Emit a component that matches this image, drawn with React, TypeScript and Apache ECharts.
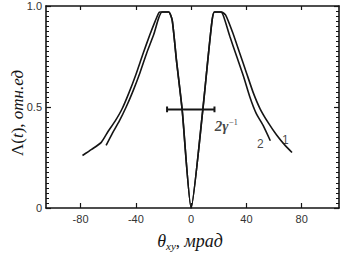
import React, { useEffect, useRef } from "react";
import * as echarts from "echarts";

const xTicks = [-80, -40, 0, 40, 80];
const yTicks = [0, 0.5, 1];

const curve1X = [-78.6, -72, -65, -60, -55, -50, -45, -40, -35, -30, -26, -23.5, -22.2, -16.2, -13.7, -10.6, -6.5, 0, 8.5, 11.6, 15.2, 16.9, 22, 25, 30, 35, 40, 45, 50, 56, 62, 68, 73];
const curve1Y = [0.26, 0.29, 0.325, 0.38, 0.43, 0.49, 0.57, 0.66, 0.76, 0.855, 0.925, 0.965, 0.97, 0.97, 0.93, 0.731, 0.488, 0, 0.488, 0.7, 0.93, 0.97, 0.97, 0.955, 0.87, 0.77, 0.67, 0.57, 0.49, 0.42, 0.36, 0.31, 0.275];

const curve2X = [-61.5, -57, -52, -47, -42, -37, -32, -27, -23.5, -21, -16.2, -13.7, -10.6, -6.5, 0, 8.5, 11.6, 15.2, 16.9, 21.5, 23.6, 28, 33, 38, 42.5, 47, 52, 57.3];
const curve2Y = [0.31, 0.37, 0.43, 0.5, 0.58, 0.67, 0.77, 0.86, 0.94, 0.97, 0.97, 0.93, 0.731, 0.488, 0, 0.488, 0.7, 0.93, 0.97, 0.97, 0.947, 0.85, 0.75, 0.65, 0.55, 0.47, 0.41, 0.333];

const barX = [-17.4, 16.9];
const barY = 0.488;
const capHalf = 0.014;

const labelNames = ["2", "1", "gamma"];
const labelX = [50.1, 68.1, 25.5];
const labelY = [0.318, 0.338, 0.405];

const ink = "#151515";

export default function App() {
  const ref = useRef<HTMLDivElement>(null);
  useEffect(() => {
    if (!ref.current) return;
    const chart = echarts.init(ref.current, undefined, { renderer: "svg" });
    const c1 = curve1X.map((x, i) => [x, curve1Y[i]]);
    const c2 = curve2X.map((x, i) => [x, curve2Y[i]]);
    const bar = [
      [barX[0], barY + capHalf],
      [barX[0], barY - capHalf],
      [barX[0], barY],
      [barX[1], barY],
      [barX[1], barY - capHalf],
      [barX[1], barY + capHalf],
    ];
    const labels = labelNames.map((n, i) => ({ name: n, value: [labelX[i], labelY[i]] }));
    const axisLine = { show: true, onZero: false, lineStyle: { color: ink, width: 1.6 } };
    const tickFont = { fontFamily: "Liberation Sans", fontSize: 11, color: "#333" };
    chart.setOption({
      animation: false,
      backgroundColor: "#fff",
      grid: { left: 46, right: 10, top: 6, bottom: 52 },
      xAxis: [
        {
          type: "value",
          position: "bottom",
          min: -105,
          max: 107,
          axisLine,
          splitLine: { show: false },
          axisTick: { show: true, inside: true, length: 5, customValues: xTicks, lineStyle: { color: ink, width: 1.2 } },
          axisLabel: { customValues: xTicks, margin: 5, ...tickFont },
        },
        {
          type: "value",
          position: "top",
          min: -105,
          max: 107,
          axisLine,
          splitLine: { show: false },
          axisTick: { show: true, inside: true, length: 4, customValues: xTicks, lineStyle: { color: ink, width: 1.2 } },
          axisLabel: { show: false },
        },
      ],
      yAxis: [
        {
          type: "value",
          position: "left",
          min: 0,
          max: 1,
          interval: 0.5,
          axisLine,
          splitLine: { show: false },
          axisTick: { show: true, inside: true, length: 5, lineStyle: { color: ink, width: 1.2 } },
          minorTick: { show: true, splitNumber: 20, length: 3, lineStyle: { color: ink, width: 1 } },
          axisLabel: {
            margin: 4,
            ...tickFont,
            formatter: (v: number) => (yTicks.includes(v) ? (v === 0 ? "0" : v.toFixed(1)) : ""),
          },
        },
        {
          type: "value",
          position: "right",
          min: 0,
          max: 1,
          interval: 0.5,
          axisLine,
          splitLine: { show: false },
          axisTick: { show: true, inside: true, length: 5, lineStyle: { color: ink, width: 1.2 } },
          minorTick: { show: true, splitNumber: 20, length: 3, lineStyle: { color: ink, width: 1 } },
          axisLabel: { show: false },
        },
      ],
      series: [
        {
          type: "line",
          data: c1,
          showSymbol: false,
          symbol: "none",
          smooth: 0.2,
          lineStyle: { color: ink, width: 1.6 },
          z: 3,
        },
        {
          type: "line",
          data: c2,
          showSymbol: false,
          symbol: "none",
          smooth: 0.2,
          lineStyle: { color: ink, width: 1.6 },
          z: 3,
        },
        {
          type: "line",
          data: bar,
          showSymbol: false,
          symbol: "none",
          lineStyle: { color: ink, width: 2 },
          z: 4,
        },
        {
          type: "scatter",
          data: labels,
          symbolSize: 0,
          z: 5,
          label: {
            show: true,
            position: "inside",
            formatter: (p: any) => (p.name === "gamma" ? "{g|2γ}{s|−1}" : "{n|" + p.name + "}"),
            rich: {
              n: { fontFamily: "Liberation Sans", fontSize: 12, color: ink },
              g: { fontFamily: "Liberation Serif", fontSize: 15, fontStyle: "italic", fontWeight: "bold", color: ink },
              s: { fontFamily: "Liberation Serif", fontSize: 9, color: ink, verticalAlign: "top", padding: [0, 0, 8, 0] },
            },
          },
        },
      ],
      graphic: [
        {
          type: "text",
          x: 17,
          y: 113,
          rotation: Math.PI / 2,
          style: {
            text: "{a|Λ(}{i|t}{a|), }{i|отн.ед}",
            align: "center",
            verticalAlign: "middle",
            rich: {
              a: { fontFamily: "Liberation Serif", fontSize: 17, fill: ink },
              i: { fontFamily: "Liberation Serif", fontSize: 17, fontStyle: "italic", fill: ink },
            },
          },
        },
        {
          type: "text",
          x: 190,
          y: 241,
          style: {
            text: "{i|θ}{s|xy}{a|, }{i|мрад}",
            align: "center",
            verticalAlign: "middle",
            rich: {
              a: { fontFamily: "Liberation Serif", fontSize: 17, fill: ink },
              i: { fontFamily: "Liberation Serif", fontSize: 18, fontStyle: "italic", fill: ink },
              s: { fontFamily: "Liberation Serif", fontSize: 11, fontStyle: "italic", fill: ink, padding: [10, 0, 0, 0] },
            },
          },
        },
      ],
    });
    return () => chart.dispose();
  }, []);
  return <div ref={ref} style={{ width: 349, height: 260, position: "absolute", left: 0, top: 0 }} />;
}
